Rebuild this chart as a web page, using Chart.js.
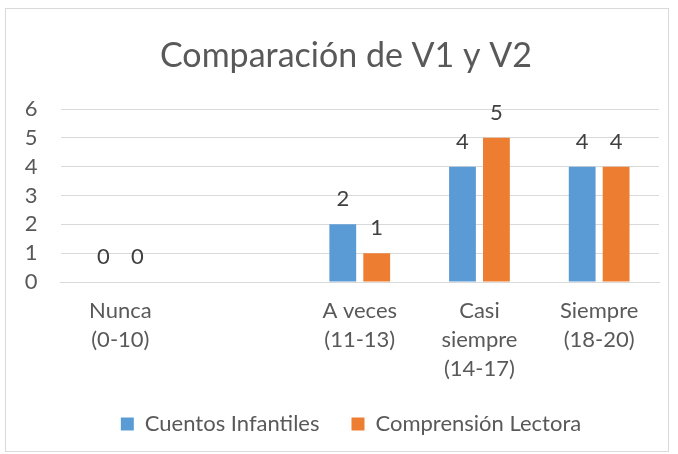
<!DOCTYPE html>
<html>
<head>
<meta charset="utf-8">
<script src="https://cdn.jsdelivr.net/npm/chart.js@4.4.1/dist/chart.umd.min.js"></script>
<style>
  html, body { margin: 0; padding: 0; background: #fff; }
  body { width: 678px; height: 454px; position: relative; overflow: hidden; }
  #wrap { position: absolute; left: 5px; top: 8px; width: 664px; height: 444px; border: 1px solid #d9d9d9; box-sizing: border-box; }
  canvas { display: block; }
</style>
</head>
<body>
<div id="wrap"><canvas id="c" width="664" height="444"></canvas></div>
<script>
const categories = [["Nunca", "(0-10)"], "", ["A veces", "(11-13)"], ["Casi", "siempre", "(14-17)"], ["Siempre", "(18-20)"]];
const cuentosInfantiles = [0, null, 2, 4, 4];
const comprensionLectora = [0, null, 1, 5, 4];
const yTicks = [0, 1, 2, 3, 4, 5, 6];

const FONT = "Lato, 'Open Sans', sans-serif";

const valueLabels = {
  id: 'valueLabels',
  afterDatasetsDraw(chart) {
    const ctx = chart.ctx;
    ctx.save();
    ctx.font = "22px " + FONT;
    ctx.fillStyle = '#404040';
    ctx.textAlign = 'center';
    ctx.textBaseline = 'alphabetic';
    chart.data.datasets.forEach((ds, di) => {
      const meta = chart.getDatasetMeta(di);
      meta.data.forEach((bar, i) => {
        const v = ds.data[i];
        if (v === null || v === undefined) return;
        ctx.fillText(String(v), bar.x, bar.y - 18);
      });
    });
    ctx.restore();
  }
};

// nudge title and legend horizontally to match the reference's centring
const boxNudge = {
  id: 'boxNudge',
  afterLayout(chart) {
    if (chart.legend) { chart.legend.left += 9; chart.legend.right += 9; }
    if (chart.titleBlock) { chart.titleBlock.left += 4; chart.titleBlock.right += 4; }
  }
};

new Chart(document.getElementById('c'), {
  type: 'bar',
  data: {
    labels: categories,
    datasets: [
      { label: 'Cuentos Infantiles', data: cuentosInfantiles, backgroundColor: '#5b9bd5' },
      { label: 'Comprensión Lectora', data: comprensionLectora, backgroundColor: '#ed7d31' }
    ]
  },
  options: {
    responsive: false,
    animation: false,
    categoryPercentage: 0.567,
    barPercentage: 0.79,
    layout: { padding: { left: 19, right: 11, top: 0, bottom: 8 } },
    plugins: {
      title: {
        display: true,
        text: 'Comparación de V1 y V2',
        color: '#595959',
        font: { family: FONT, size: 34, weight: 'normal' },
        padding: { top: 26.5, bottom: 32.7 }
      },
      legend: {
        position: 'bottom',
        labels: {
          color: '#595959',
          font: { family: FONT, size: 22 },
          boxWidth: 13,
          boxHeight: 13,
          padding: 32
        }
      },
      tooltip: { enabled: false }
    },
    scales: {
      x: {
        grid: { display: false, drawTicks: false },
        border: { display: true, color: '#d9d9d9' },
        afterFit(scale) { scale.height = 99; },
        ticks: {
          color: '#595959',
          font: { family: FONT, size: 22, lineHeight: 1.32 },
          padding: 14.5,
          maxRotation: 0,
          autoSkip: false
        }
      },
      y: {
        min: 0,
        max: 6,
        afterBuildTicks(scale) { scale.ticks = yTicks.map(v => ({ value: v })); },
        afterFit(scale) { scale.width = 35.5; },
        grid: { color: '#d9d9d9', lineWidth: 1, drawTicks: false },
        border: { display: false },
        ticks: {
          color: '#595959',
          font: { family: FONT, size: 22 },
          padding: 23,
          autoSkip: false
        }
      }
    }
  },
  plugins: [valueLabels, boxNudge]
});
</script>
</body>
</html>
